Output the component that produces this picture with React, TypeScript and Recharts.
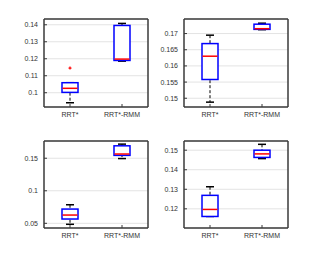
import { ComposedChart, Bar, Scatter, XAxis, YAxis, CartesianGrid } from "recharts";

const categories = ["RRT*", "RRT*-RMM"];

// [lower whisker, upper whisker]
const p1Whisker = [[0.0941, 0.1059], [0.1186, 0.1408]];
const p1Box = [[0.1002, 0.1059], [0.119, 0.1396]];
const p1Median = [0.1026, 0.1198];
const p1Outlier = [0.1145, null];
const p1Ticks = [0.1, 0.11, 0.12, 0.13, 0.14];

const p2Whisker = [[0.1488, 0.1695], [0.1712, 0.1732]];
const p2Box = [[0.1558, 0.1669], [0.1713, 0.1729]];
const p2Median = [0.163, 0.1715];
const p2Ticks = [0.15, 0.155, 0.16, 0.165, 0.17];

const p3Whisker = [[0.0485, 0.0785], [0.1495, 0.1717]];
const p3Box = [[0.0566, 0.0719], [0.1544, 0.1691]];
const p3Median = [0.0627, 0.1565];
const p3Ticks = [0.05, 0.1, 0.15];

const p4Whisker = [[0.1161, 0.1313], [0.1457, 0.153]];
const p4Box = [[0.1161, 0.1269], [0.1463, 0.15]];
const p4Median = [0.1197, 0.1481];
const p4Ticks = [0.12, 0.13, 0.14, 0.15];

const FRAME = "#3a3a3a";
const TICK = { fontSize: 7, fill: "#333", fontFamily: "Liberation Sans, Arial, sans-serif" };

function WhiskerShape(props: any) {
  const { x, y, width, height } = props;
  const cx = x + width / 2;
  const top = Math.min(y, y + height);
  const bot = Math.max(y, y + height);
  return (
    <g>
      <line x1={cx} x2={cx} y1={top} y2={bot} stroke="#000" strokeWidth={1} strokeDasharray="3 2" />
      <line x1={cx - 4} x2={cx + 4} y1={top} y2={top} stroke="#000" strokeWidth={1.5} />
      <line x1={cx - 4} x2={cx + 4} y1={bot} y2={bot} stroke="#000" strokeWidth={1.5} />
    </g>
  );
}

function BoxShape(props: any) {
  const { x, y, width, height } = props;
  const top = Math.min(y, y + height);
  const h = Math.abs(height);
  return <rect x={x} y={top} width={width} height={h} fill="#fff" stroke="#0000ff" strokeWidth={1.5} />;
}

function MedianShape(props: any) {
  const { cx, cy } = props;
  if (!Number.isFinite(cy)) return <g />;
  return <line x1={cx - 7.5} x2={cx + 7.5} y1={cy} y2={cy} stroke="#ff0000" strokeWidth={1.5} />;
}

function OutlierShape(props: any) {
  const { cx, cy, payload } = props;
  if (payload.outlier == null || !Number.isFinite(cy)) return <g />;
  return (
    <g>
      <line x1={cx - 1.5} x2={cx + 1.5} y1={cy} y2={cy} stroke="#ff0000" strokeWidth={1.2} />
      <line x1={cx} x2={cx} y1={cy - 1.5} y2={cy + 1.5} stroke="#ff0000" strokeWidth={1.2} />
    </g>
  );
}

interface PanelProps {
  left: number;
  top: number;
  width: number;
  yWidth: number;
  marginTop: number;
  xHeight: number;
  whisker: number[][];
  box: number[][];
  median: number[];
  outlier?: (number | null)[];
  domain: [number, number];
  ticks: number[];
}

function BoxPanel(p: PanelProps) {
  const data = categories.map((name, i) => ({
    name,
    whisker: p.whisker[i],
    box: p.box[i],
    median: p.median[i],
    outlier: p.outlier ? p.outlier[i] : null,
  }));
  return (
    <div style={{ position: "absolute", left: p.left, top: p.top }}>
      <ComposedChart width={p.width} height={128} data={data} margin={{ top: p.marginTop - 1, right: 1, bottom: 0, left: 0 }}>
        <CartesianGrid vertical={false} stroke="#e3e3e3" strokeWidth={1} />
        <XAxis dataKey="name" height={p.xHeight} tick={TICK} tickSize={-3} tickMargin={8}
          axisLine={{ stroke: FRAME, strokeWidth: 1.5 }} tickLine={{ stroke: FRAME }} interval={0} />
        <XAxis xAxisId="t" dataKey="name" orientation="top" height={1} tick={false} tickSize={-3}
          axisLine={{ stroke: FRAME, strokeWidth: 1.5 }} tickLine={{ stroke: FRAME }} interval={0} />
        <YAxis type="number" domain={p.domain} ticks={p.ticks} width={p.yWidth} tick={TICK} tickSize={-3} tickMargin={9}
          axisLine={{ stroke: FRAME, strokeWidth: 1.5 }} tickLine={{ stroke: FRAME }} allowDataOverflow interval={0} />
        <YAxis yAxisId="r" orientation="right" type="number" domain={p.domain} ticks={p.ticks} width={1} tick={false} tickSize={-3}
          axisLine={{ stroke: FRAME, strokeWidth: 1.5 }} tickLine={{ stroke: FRAME }} allowDataOverflow interval={0} />
        <Bar dataKey="whisker" barSize={16} shape={WhiskerShape} isAnimationActive={false} />
        <Bar dataKey="box" xAxisId="t" barSize={16} shape={BoxShape} isAnimationActive={false} />
        <Scatter dataKey="median" xAxisId="t" yAxisId="r" shape={MedianShape} isAnimationActive={false} />
        {p.outlier && <Scatter dataKey="outlier" shape={OutlierShape} isAnimationActive={false} />}
      </ComposedChart>
    </div>
  );
}

export default function App() {
  return (
    <div style={{ position: "absolute", left: 0, top: 0, width: 320, height: 256, background: "#fff" }}>
      <BoxPanel left={0} top={0} width={150} yWidth={44} marginTop={19} xHeight={21}
        whisker={p1Whisker} box={p1Box} median={p1Median} outlier={p1Outlier}
        domain={[0.0916, 0.1434]} ticks={p1Ticks} />
      <BoxPanel left={160} top={0} width={130} yWidth={24} marginTop={19} xHeight={21}
        whisker={p2Whisker} box={p2Box} median={p2Median}
        domain={[0.1473, 0.1745]} ticks={p2Ticks} />
      <BoxPanel left={0} top={128} width={150} yWidth={44} marginTop={13} xHeight={28}
        whisker={p3Whisker} box={p3Box} median={p3Median}
        domain={[0.0428, 0.1765]} ticks={p3Ticks} />
      <BoxPanel left={160} top={128} width={130} yWidth={24} marginTop={13} xHeight={28}
        whisker={p4Whisker} box={p4Box} median={p4Median}
        domain={[0.1102, 0.1547]} ticks={p4Ticks} />
    </div>
  );
}
